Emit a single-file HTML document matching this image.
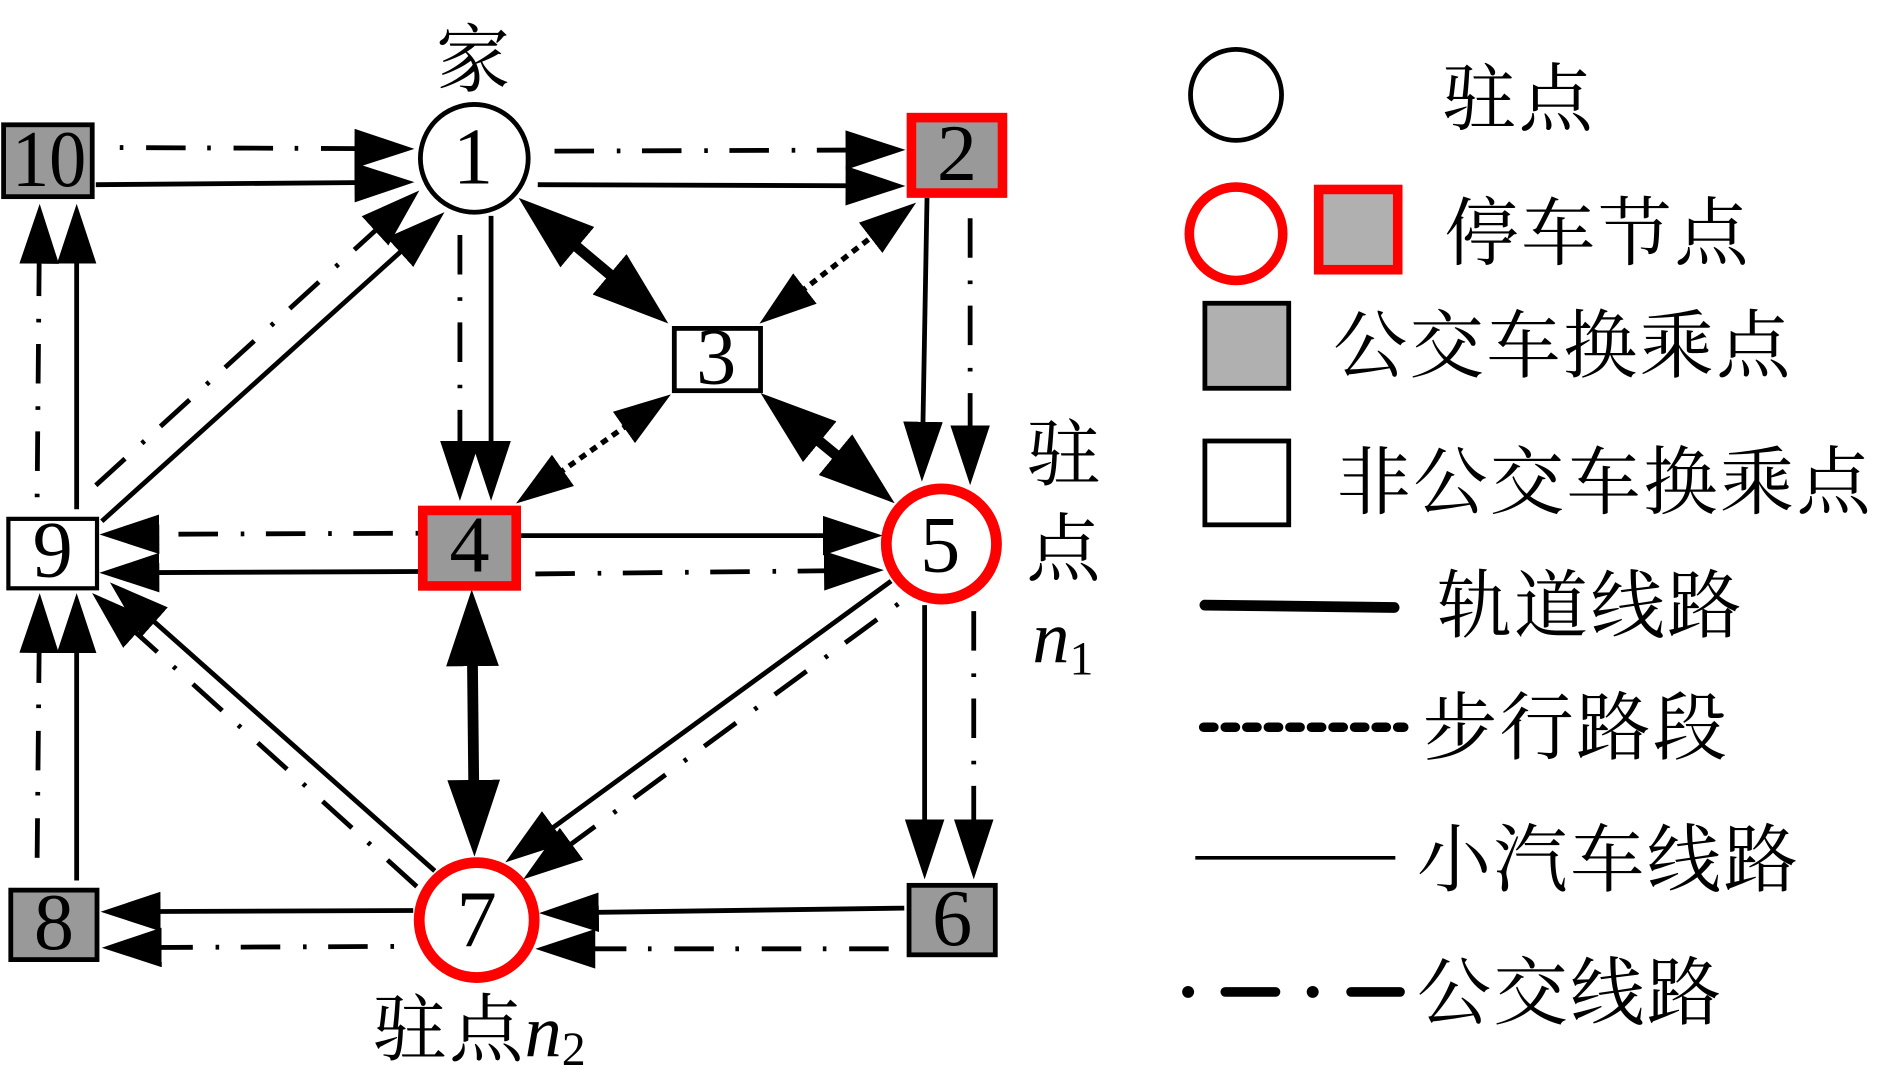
<!DOCTYPE html>
<html>
<head>
<meta charset="utf-8">
<style>
html,body{margin:0;padding:0;background:#fff;width:1878px;height:1082px;overflow:hidden}
svg{display:block}
.c{font-family:"Liberation Serif","Noto Serif CJK SC",serif;font-size:62px;letter-spacing:2px;fill:#000}
.n{font-family:"Liberation Serif",serif;font-size:67px;fill:#000;text-anchor:middle}
.i{font-family:"Liberation Serif",serif;font-style:italic;font-size:62px;fill:#000}
.s{font-family:"Liberation Serif",serif;font-size:40px;fill:#000}
.l{stroke:#000;stroke-width:4;fill:none;marker-end:url(#a)}
.d{stroke:#000;stroke-width:4;fill:none;stroke-dasharray:3 19 33 18;marker-end:url(#a)}
.f{stroke:#000;stroke-width:4;fill:none;stroke-dasharray:33 19 3 18;marker-end:url(#a)}
.t{stroke:#000;stroke-width:9;fill:none;marker-start:url(#b);marker-end:url(#b)}
.w{stroke:#000;stroke-width:4.5;fill:none;stroke-dasharray:6 5;marker-start:url(#e);marker-end:url(#e)}
</style>
</head>
<body>
<svg width="1878" height="1082" viewBox="0 0 1568 903" xmlns="http://www.w3.org/2000/svg">
<defs>
<marker id="a" markerUnits="userSpaceOnUse" markerWidth="50" markerHeight="33" refX="35" refY="16.5" orient="auto-start-reverse"><path d="M0,0 L50,16.5 L0,33 Z" fill="#000"/></marker>
<marker id="b" markerUnits="userSpaceOnUse" markerWidth="64" markerHeight="44" refX="49" refY="22" orient="auto-start-reverse"><path d="M0,0 L64,22 L0,44 Z" fill="#000"/></marker>
<marker id="e" markerUnits="userSpaceOnUse" markerWidth="48" markerHeight="32" refX="38" refY="16" orient="auto-start-reverse"><path d="M0,0 L48,16 L0,32 Z" fill="#000"/></marker>
</defs>
<rect width="1568" height="903" fill="#fff"/>

<!-- connectors -->
<line class="d" x1="100" y1="123" x2="331" y2="124"/>
<line class="l" x1="80" y1="154" x2="331" y2="152"/>
<line class="f" x1="463" y1="126" x2="741" y2="125"/>
<line class="l" x1="449" y1="154" x2="741" y2="155"/>
<line class="l" x1="774" y1="165" x2="770" y2="387"/>
<line class="f" x1="810" y1="182" x2="810" y2="390"/>
<line class="f" x1="384" y1="196" x2="384" y2="403"/>
<line class="l" x1="410" y1="180" x2="410" y2="403"/>
<line class="l" x1="64" y1="425" x2="64" y2="185"/>
<line class="d" x1="31" y1="415" x2="33" y2="185"/>
<line class="l" x1="85" y1="435" x2="360" y2="187"/>
<line class="f" x1="80" y1="405" x2="339" y2="169"/>
<line class="t" x1="444.5" y1="174.7" x2="546.5" y2="260.3"/>
<line class="t" x1="646.6" y1="337.5" x2="735.4" y2="410.5"/>
<line class="w" x1="642" y1="263.9" x2="757" y2="175.1"/>
<line class="w" x1="552" y1="334.8" x2="439" y2="414.4"/>
<line class="d" x1="350" y1="445" x2="98" y2="446"/>
<line class="l" x1="350" y1="477" x2="98" y2="478"/>
<line class="l" x1="435" y1="447" x2="722" y2="447"/>
<line class="f" x1="447" y1="479" x2="723" y2="476"/>
<line class="l" x1="744" y1="485" x2="434" y2="711"/>
<line class="d" x1="750" y1="504" x2="449" y2="725"/>
<line class="l" x1="772" y1="505" x2="772" y2="719"/>
<line class="f" x1="813" y1="510" x2="813" y2="719"/>
<line class="t" x1="394" y1="507" x2="396" y2="700"/>
<line class="l" x1="363" y1="727" x2="103" y2="496"/>
<line class="f" x1="348" y1="740" x2="88" y2="505"/>
<line class="l" x1="64" y1="735" x2="64" y2="510"/>
<line class="f" x1="31" y1="716" x2="33" y2="510"/>
<line class="l" x1="345" y1="760" x2="99" y2="761"/>
<line class="d" x1="329" y1="790" x2="100" y2="791"/>
<line class="l" x1="755" y1="758" x2="465" y2="762"/>
<line class="f" x1="742" y1="792" x2="462" y2="792"/>

<!-- nodes -->
<circle cx="396" cy="132" r="45" fill="#fff" stroke="#000" stroke-width="4"/>
<rect x="761" y="98" width="76" height="63" fill="#999" stroke="#f00" stroke-width="8"/>
<rect x="3" y="104" width="74" height="60" fill="#999" stroke="#000" stroke-width="4"/>
<rect x="563" y="274" width="72" height="52" fill="#fff" stroke="#000" stroke-width="4"/>
<rect x="353" y="426" width="78" height="63" fill="#999" stroke="#f00" stroke-width="8"/>
<circle cx="786" cy="454" r="46" fill="#fff" stroke="#f00" stroke-width="9"/>
<rect x="7" y="433" width="74" height="58" fill="#fff" stroke="#000" stroke-width="3.5"/>
<rect x="9" y="743" width="72" height="58" fill="#999" stroke="#000" stroke-width="4"/>
<circle cx="398" cy="768" r="48" fill="#fff" stroke="#f00" stroke-width="9"/>
<rect x="759" y="739" width="72" height="58" fill="#999" stroke="#000" stroke-width="4"/>

<text class="n" x="395" y="153">1</text>
<text class="n" x="799" y="150">2</text>
<text class="n" x="598" y="320">3</text>
<text class="n" x="392" y="477">4</text>
<text class="n" x="785" y="477">5</text>
<text class="n" x="795" y="789">6</text>
<text class="n" x="398" y="790">7</text>
<text class="n" x="45" y="792">8</text>
<text class="n" x="44" y="481">9</text>
<text class="n" x="41" y="155" textLength="62" lengthAdjust="spacingAndGlyphs">10</text>

<!-- labels -->
<text class="c" x="364" y="71">家</text>
<text class="c" x="857" y="401">驻</text>
<text class="c" x="857" y="480">点</text>
<text class="i" x="862" y="553">n</text>
<text class="s" x="893" y="563">1</text>
<text class="c" x="311" y="881">驻点</text>
<text class="i" x="438" y="882">n</text>
<text class="s" x="469" y="889">2</text>

<!-- legend -->
<circle cx="1032" cy="79" r="38" fill="#fff" stroke="#000" stroke-width="4"/>
<circle cx="1032" cy="195" r="39" fill="#fff" stroke="#f00" stroke-width="8"/>
<rect x="1101" y="158" width="66" height="67" fill="#b0b0b0" stroke="#f00" stroke-width="8"/>
<rect x="1006" y="253" width="70" height="71" fill="#b0b0b0" stroke="#000" stroke-width="4"/>
<rect x="1006" y="368" width="70" height="70" fill="#fff" stroke="#000" stroke-width="4"/>
<line x1="1006" y1="505" x2="1164" y2="507" stroke="#000" stroke-width="9" stroke-linecap="round"/>
<line x1="1005" y1="607" x2="1172" y2="607" stroke="#000" stroke-width="8" stroke-linecap="round" stroke-dasharray="8.5 9.5"/>
<line x1="998" y1="716" x2="1165" y2="716" stroke="#000" stroke-width="3"/>
<circle cx="992" cy="828" r="5" fill="#000"/>
<line x1="1023" y1="828" x2="1065" y2="828" stroke="#000" stroke-width="8" stroke-linecap="round"/>
<circle cx="1096" cy="828" r="5" fill="#000"/>
<line x1="1128" y1="828" x2="1169" y2="828" stroke="#000" stroke-width="8" stroke-linecap="round"/>

<text class="c" x="1204" y="104">驻点</text>
<text class="c" x="1206" y="216">停车节点</text>
<text class="c" x="1113" y="310">公交车换乘点</text>
<text class="c" x="1116" y="424">非公交车换乘点</text>
<text class="c" x="1200" y="527">轨道线路</text>
<text class="c" x="1188" y="629">步行路段</text>
<text class="c" x="1183" y="739">小汽车线路</text>
<text class="c" x="1183" y="850">公交线路</text>
</svg>
</body>
</html>
